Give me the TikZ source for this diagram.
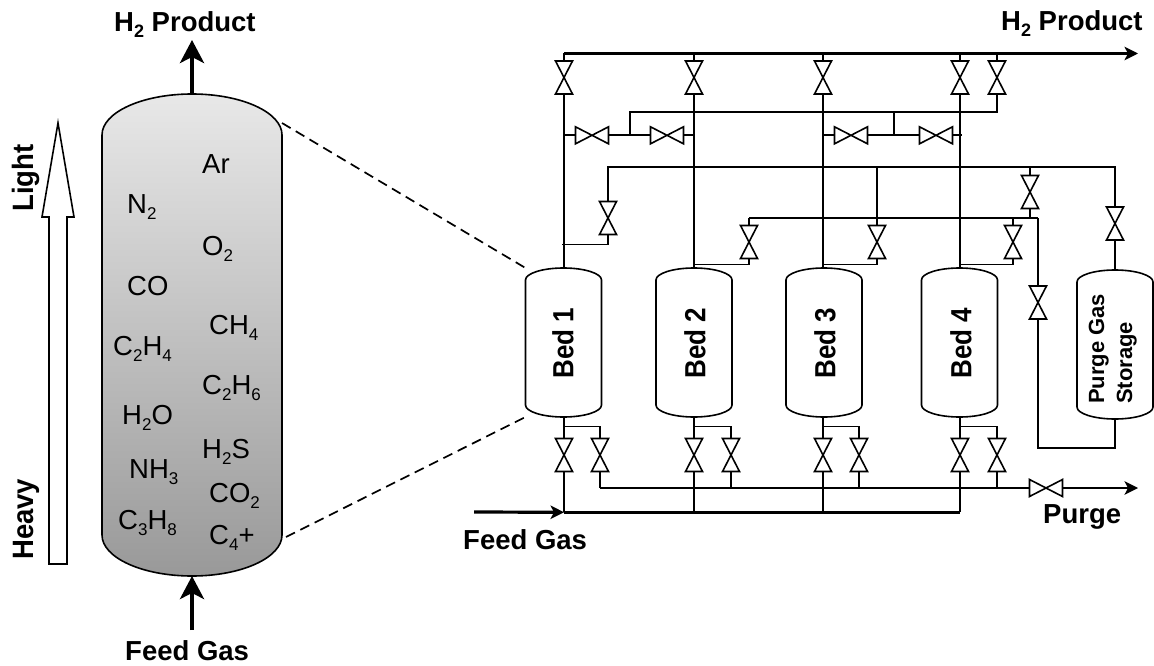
\documentclass[tikz,border=0pt]{standalone}
\usepackage{fontspec}
\setmainfont{Liberation Sans}
\usetikzlibrary{arrows.meta,calc}
\newdimen\vxa \newdimen\vxb \newdimen\vya \newdimen\vyb \newdimen\vxm \newdimen\vrx
\def\vesseldome{12}
\makeatletter
\pgfdeclareshape{vesselshape}{
  \inheritsavedanchors[from=rectangle]
  \inheritanchorborder[from=rectangle]
  \inheritanchor[from=rectangle]{center}
  \inheritanchor[from=rectangle]{north}
  \inheritanchor[from=rectangle]{south}
  \inheritanchor[from=rectangle]{east}
  \inheritanchor[from=rectangle]{west}
  \inheritanchor[from=rectangle]{north east}
  \inheritanchor[from=rectangle]{north west}
  \inheritanchor[from=rectangle]{south east}
  \inheritanchor[from=rectangle]{south west}
  \backgroundpath{
    \southwest \vxa=\pgf@x \vya=\pgf@y
    \northeast \vxb=\pgf@x \vyb=\pgf@y
    \vxm=.5\vxa \advance\vxm by .5\vxb
    \vrx=\vxb \advance\vrx by -\vxm
    \pgfpathmoveto{\pgfpoint{\vxa}{\vyb-\vesseldome pt}}
    \pgfpathcurveto{\pgfpoint{\vxa}{\vyb-0.4477*\vesseldome pt}}{\pgfpoint{\vxm-0.5523*\vrx}{\vyb}}{\pgfpoint{\vxm}{\vyb}}
    \pgfpathcurveto{\pgfpoint{\vxm+0.5523*\vrx}{\vyb}}{\pgfpoint{\vxb}{\vyb-0.4477*\vesseldome pt}}{\pgfpoint{\vxb}{\vyb-\vesseldome pt}}
    \pgfpathlineto{\pgfpoint{\vxb}{\vya+\vesseldome pt}}
    \pgfpathcurveto{\pgfpoint{\vxb}{\vya+0.4477*\vesseldome pt}}{\pgfpoint{\vxm+0.5523*\vrx}{\vya}}{\pgfpoint{\vxm}{\vya}}
    \pgfpathcurveto{\pgfpoint{\vxm-0.5523*\vrx}{\vya}}{\pgfpoint{\vxa}{\vya+0.4477*\vesseldome pt}}{\pgfpoint{\vxa}{\vya+\vesseldome pt}}
    \pgfpathclose
  }
}
\pgfdeclareshape{bowtiev}{
  \inheritsavedanchors[from=rectangle]
  \inheritanchorborder[from=rectangle]
  \inheritanchor[from=rectangle]{center}
  \inheritanchor[from=rectangle]{north}
  \inheritanchor[from=rectangle]{south}
  \inheritanchor[from=rectangle]{east}
  \inheritanchor[from=rectangle]{west}
  \backgroundpath{
    \southwest \vxa=\pgf@x \vya=\pgf@y
    \northeast \vxb=\pgf@x \vyb=\pgf@y
    \pgfpathmoveto{\pgfpoint{\vxa}{\vyb}}
    \pgfpathlineto{\pgfpoint{\vxb}{\vyb}}
    \pgfpathlineto{\pgfpoint{\vxa}{\vya}}
    \pgfpathlineto{\pgfpoint{\vxb}{\vya}}
    \pgfpathclose
  }
}
\pgfdeclareshape{bowtieh}{
  \inheritsavedanchors[from=rectangle]
  \inheritanchorborder[from=rectangle]
  \inheritanchor[from=rectangle]{center}
  \inheritanchor[from=rectangle]{north}
  \inheritanchor[from=rectangle]{south}
  \inheritanchor[from=rectangle]{east}
  \inheritanchor[from=rectangle]{west}
  \backgroundpath{
    \southwest \vxa=\pgf@x \vya=\pgf@y
    \northeast \vxb=\pgf@x \vyb=\pgf@y
    \pgfpathmoveto{\pgfpoint{\vxa}{\vyb}}
    \pgfpathlineto{\pgfpoint{\vxa}{\vya}}
    \pgfpathlineto{\pgfpoint{\vxb}{\vyb}}
    \pgfpathlineto{\pgfpoint{\vxb}{\vya}}
    \pgfpathclose
  }
}
\makeatother
\newcommand{\sbs}[1]{\raisebox{-6.5pt}{\fontsize{17}{17}\selectfont #1}}
\newcommand{\bsbs}[1]{\raisebox{-5.4pt}{\fontsize{18}{18}\selectfont\bfseries #1}}
\newcommand{\tallbed}[1]{\scalebox{1}[1.12]{#1}}
\newcommand{\tallside}[1]{\scalebox{1}[1.07]{#1}}
\tikzset{
  pipe/.style={line width=1.7pt,line join=miter},
  mainpipe/.style={line width=3.2pt},
  vv/.style={shape=bowtiev,draw,line width=1.6pt,minimum width=17pt,minimum height=33pt,inner sep=0pt,outer sep=0pt},
  hv/.style={shape=bowtieh,draw,line width=1.6pt,minimum width=33pt,minimum height=17pt,inner sep=0pt,outer sep=0pt},
  bed/.style={shape=vesselshape,draw,line width=1.6pt,minimum width=76pt,minimum height=149pt,inner sep=0pt,outer sep=0pt},
  bedtext/.style={rotate=90,anchor=center,inner sep=0pt,font=\fontsize{26}{28}\selectfont\bfseries},
  storetext/.style={rotate=90,anchor=base west,inner sep=0pt,font=\fontsize{22}{24}\selectfont\bfseries},
  species/.style={anchor=base west,inner sep=0pt,font=\fontsize{27.5}{30}\selectfont},
  title/.style={anchor=base west,inner sep=0pt,font=\fontsize{27.5}{30}\selectfont\bfseries},
  smallhead/.style={-{Stealth[length=13.5pt,width=13.5pt,inset=3.5pt]}},
  bighead/.style={-{Stealth[length=23pt,width=24pt,inset=6pt]}},
}
\begin{document}
\begin{tikzpicture}[x=1pt,y=-1pt]
\useasboundingbox (0,0) rectangle (1154,666);
% ---------- left column
\def\vesseldome{41}
\node[shape=vesselshape,draw,line width=1.6pt,minimum width=180pt,minimum height=482pt,inner sep=0pt,outer sep=0pt,
      top color=white!91!black,bottom color=black!40!white] (tank) at (192,335) {};
\def\vesseldome{12}
\coordinate (h2tip) at (192,40);
\coordinate (feedtail) at (192,630);
\draw[line width=4pt,bighead] (tank.north) -- (h2tip);
\draw[line width=4pt,bighead] (feedtail) -- (tank.south);
\draw[line width=1.6pt,fill=white] (58,123) -- (74,217) -- (67,217) -- (67,564) -- (49,564) -- (49,217) -- (42,217) -- cycle;
\node[title] (t1) at (114,32) {H\bsbs{2} Product};
\node[title] (t2) at (125,660) {Feed Gas};
\node[title,rotate=90] (lgt) at (33,212) {\tallside{Light}};
\node[title,rotate=90] (hvy) at (33,560) {\tallside{Heavy}};
\node[species] (s1) at (202,174) {Ar};
\node[species] (s2) at (127,213) {N\sbs{2}};
\node[species] (s3) at (202,255) {O\sbs{2}};
\node[species] (s4) at (127,295) {CO};
\node[species] (s5) at (209,334) {CH\sbs{4}};
\node[species] (s6) at (113,355) {C\sbs{2}H\sbs{4}};
\node[species] (s7) at (202,394) {C\sbs{2}H\sbs{6}};
\node[species] (s8) at (122,424) {H\sbs{2}O};
\node[species] (s9) at (202,458) {H\sbs{2}S};
\node[species] (s10) at (129,478) {NH\sbs{3}};
\node[species] (s11) at (209,502) {CO\sbs{2}};
\node[species] (s12) at (118,529) {C\sbs{3}H\sbs{8}};
\node[species] (s13) at (209,544) {C\sbs{4}+};
% ---------- beds
\node[bed] (bed1) at (563.5,342.5) {};
\node[bed] (bed2) at (694,342.5) {};
\node[bed] (bed3) at (824,342.5) {};
\node[bed] (bed4) at (959.5,342.5) {};
\node[bed] (store) at (1115,344.5) {};
\node[bedtext] (b1t) at (563,343) {\tallbed{Bed 1}};
\node[bedtext] (b2t) at (695,343) {\tallbed{Bed 2}};
\node[bedtext] (b3t) at (825,343) {\tallbed{Bed 3}};
\node[bedtext] (b4t) at (961,343) {\tallbed{Bed 4}};
\node[storetext] (st1) at (1104,404) {Purge Gas};
\node[storetext] (st2) at (1132,404) {Storage};
% dashed zoom lines
\coordinate (zt) at (282,123);
\coordinate (zb) at (286,537);
\draw[line width=1.7pt,dash pattern=on 10pt off 6pt] (zt) -- (bed1.north west);
\draw[line width=1.7pt,dash pattern=on 10pt off 6pt] (zb) -- (bed1.south west);
% ---------- valves
\foreach \n/\x in {a/564,b/694,c/823,d/960,e/997}{\node[vv] (top\n) at (\x,77.5) {};}
\foreach \n/\x in {a/592,b/667,c/851,d/936}{\node[hv] (eq\n) at (\x,135.3) {};}
\node[vv] (pa) at (608,218) {};
\node[vv] (pb) at (749,242) {};
\node[vv] (pc) at (877,242) {};
\node[vv] (pd) at (1013,242) {};
\node[vv] (pe) at (1030,192) {};
\node[vv] (pf) at (1115,223.5) {};
\node[vv] (pg) at (1038,302.5) {};
\foreach \n/\x in {a/564,b/694,c/823,d/960}{\node[vv] (feed\n) at (\x,455) {};}
\foreach \n/\x in {a/600,b/731,c/859,d/997}{\node[vv] (vent\n) at (\x,455) {};}
\node[hv] (pv) at (1046,488) {};
% ---------- junctions
\coordinate (hs) at (564,53.5);
\coordinate (htip) at (1138,53.5);
\coordinate (fs) at (474,512);
\coordinate (fa) at (564,512.3);
\coordinate (fb) at (960,512.3);
\coordinate (ps) at (600,488);
\coordinate (ptip) at (1138,488);
\coordinate (eql) at (630,135.3);
\coordinate (eqr) at (894,135.3);
\coordinate (eqt) at (630,112.3);
\coordinate (mid) at (608,166.7);
\coordinate (midr) at (1115,166.7);
\coordinate (low) at (749,218);
\coordinate (lowr) at (1038,218);
\coordinate (ret) at (1038,447.7);
% ---------- headers
\draw[mainpipe,smallhead] (hs) -- (htip);
\foreach \n in {a,b,c,d,e}{\draw[pipe] (top\n.north) -- (top\n.north |- hs);}
\draw[mainpipe] (fa) -- (fb);
\draw[mainpipe,smallhead] (fs) -- (fa);
\draw[pipe] (ps) -- (pv.west);
\draw[pipe,smallhead] (pv.east) -- (ptip);
% ---------- bed risers
\draw[pipe] (topa.south) -- (topa.south |- bed1.north);
\draw[pipe] (topb.south) -- (topb.south |- bed2.north);
\draw[pipe] (topc.south) -- (topc.south |- bed3.north);
\draw[pipe] (topd.south) -- (topd.south |- bed4.north);
\draw[pipe] (tope.south) |- (eqt) -- (eql);
% ---------- equalisation
\draw[pipe] (topa |- eqa) -- (eqa.west);
\draw[pipe] (eqa.east) -- (eqb.west);
\draw[pipe] (eqb.east) -- (topb |- eqb);
\draw[pipe] (topc |- eqc) -- (eqc.west);
\draw[pipe] (eqc.east) -- (eqd.west);
\draw[pipe] (eqd.east) -- ($(topd |- eqd)+(2,0)$);
\draw[pipe] (eqr) -- (eqr |- eqt);
% ---------- purge gas network
\draw[pipe] (pa.north) |- (midr) -- (pf.north);
\draw[pipe] (pf.south) -- (store.north);
\draw[pipe] (pa.south) |- ($(topa |- pa.south)+(-2,10)$);
\draw[pipe] (pe.north) -- (pe.north |- mid);
\draw[pipe] (pe.south) -- (pe.south |- low);
\draw[pipe] (low) -- (lowr);
\draw[pipe] (pb.north) -- (low);
\draw[pipe] (pc.north) -- (pc.north |- mid);
\draw[pipe] (pd.north) -- (pd.north |- low);
\draw[pipe] (pb.south) |- ($(topb |- pb.south)+(0,6)$);
\draw[pipe] (pc.south) |- ($(topc |- pc.south)+(0,6)$);
\draw[pipe] (pd.south) |- ($(topd |- pd.south)+(0,6)$);
\draw[pipe] (lowr) -- (pg.north);
\draw[pipe] (pg.south) |- (ret -| store.south) -- (store.south);
% ---------- bottom
\foreach \n/\b in {a/bed1,b/bed2,c/bed3,d/bed4}{
  \draw[pipe] (feed\n.north) -- (feed\n.north |- \b.south);
  \draw[pipe] (feed\n.south) -- (feed\n.south |- fa);
  \draw[pipe] ($(feed\n.north)+(0,-12)$) -| (vent\n.north);
  \draw[pipe] (vent\n.south) -- (vent\n.south |- ps);
}
\node[title] (t3) at (1001,31) {H\bsbs{2} Product};
\node[title] (t4) at (463,549) {Feed Gas};
\node[title] (t5) at (1043,523) {Purge};
\end{tikzpicture}
\end{document}
